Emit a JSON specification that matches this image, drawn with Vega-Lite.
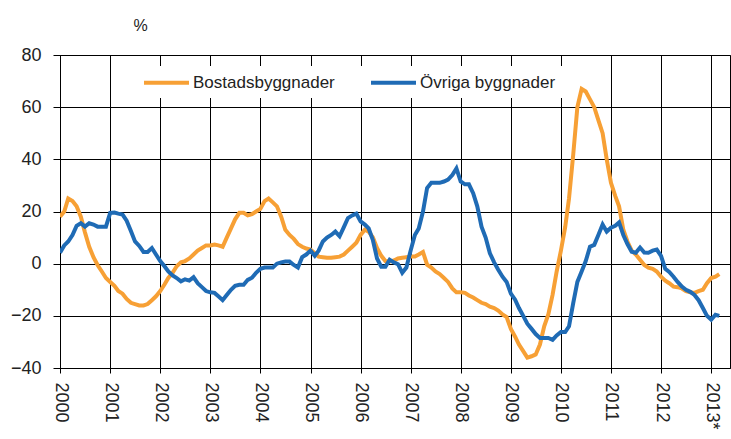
{
  "$schema": "https://vega.github.io/schema/vega-lite/v6.json",
  "width": 670,
  "height": 313,
  "autosize": {"type": "none"},
  "padding": {"left": 60, "top": 55, "right": 1, "bottom": 71},
  "background": "white",
  "config": {
    "font": "Liberation Sans",
    "view": {"stroke": "#000000", "strokeWidth": 1}
  },
  "data": {
    "values": [
      {"date":"2000-01-01","serie":"Bostadsbyggnader","value":18},{"date":"2000-02-01","serie":"Bostadsbyggnader","value":20},{"date":"2000-03-01","serie":"Bostadsbyggnader","value":25},{"date":"2000-04-01","serie":"Bostadsbyggnader","value":24},{"date":"2000-05-01","serie":"Bostadsbyggnader","value":22},{"date":"2000-06-01","serie":"Bostadsbyggnader","value":18},{"date":"2000-07-01","serie":"Bostadsbyggnader","value":12},{"date":"2000-08-01","serie":"Bostadsbyggnader","value":6.5},{"date":"2000-09-01","serie":"Bostadsbyggnader","value":2.5},{"date":"2000-10-01","serie":"Bostadsbyggnader","value":-0.5},{"date":"2000-11-01","serie":"Bostadsbyggnader","value":-3},{"date":"2000-12-01","serie":"Bostadsbyggnader","value":-5.5},
      {"date":"2001-01-01","serie":"Bostadsbyggnader","value":-7},{"date":"2001-02-01","serie":"Bostadsbyggnader","value":-8.5},{"date":"2001-03-01","serie":"Bostadsbyggnader","value":-10.5},{"date":"2001-04-01","serie":"Bostadsbyggnader","value":-11.5},{"date":"2001-05-01","serie":"Bostadsbyggnader","value":-13.5},{"date":"2001-06-01","serie":"Bostadsbyggnader","value":-15},{"date":"2001-07-01","serie":"Bostadsbyggnader","value":-15.5},{"date":"2001-08-01","serie":"Bostadsbyggnader","value":-16},{"date":"2001-09-01","serie":"Bostadsbyggnader","value":-16},{"date":"2001-10-01","serie":"Bostadsbyggnader","value":-15.5},{"date":"2001-11-01","serie":"Bostadsbyggnader","value":-14},{"date":"2001-12-01","serie":"Bostadsbyggnader","value":-12.5},
      {"date":"2002-01-01","serie":"Bostadsbyggnader","value":-10.5},{"date":"2002-02-01","serie":"Bostadsbyggnader","value":-8},{"date":"2002-03-01","serie":"Bostadsbyggnader","value":-5.5},{"date":"2002-04-01","serie":"Bostadsbyggnader","value":-3.5},{"date":"2002-05-01","serie":"Bostadsbyggnader","value":-1},{"date":"2002-06-01","serie":"Bostadsbyggnader","value":0.5},{"date":"2002-07-01","serie":"Bostadsbyggnader","value":1},{"date":"2002-08-01","serie":"Bostadsbyggnader","value":2},{"date":"2002-09-01","serie":"Bostadsbyggnader","value":3.5},{"date":"2002-10-01","serie":"Bostadsbyggnader","value":5},{"date":"2002-11-01","serie":"Bostadsbyggnader","value":6},{"date":"2002-12-01","serie":"Bostadsbyggnader","value":7},
      {"date":"2003-01-01","serie":"Bostadsbyggnader","value":7},{"date":"2003-02-01","serie":"Bostadsbyggnader","value":7.3},{"date":"2003-03-01","serie":"Bostadsbyggnader","value":7},{"date":"2003-04-01","serie":"Bostadsbyggnader","value":6.5},{"date":"2003-05-01","serie":"Bostadsbyggnader","value":10},{"date":"2003-06-01","serie":"Bostadsbyggnader","value":13.5},{"date":"2003-07-01","serie":"Bostadsbyggnader","value":17},{"date":"2003-08-01","serie":"Bostadsbyggnader","value":19.5},{"date":"2003-09-01","serie":"Bostadsbyggnader","value":19.5},{"date":"2003-10-01","serie":"Bostadsbyggnader","value":18.5},{"date":"2003-11-01","serie":"Bostadsbyggnader","value":19},{"date":"2003-12-01","serie":"Bostadsbyggnader","value":20},
      {"date":"2004-01-01","serie":"Bostadsbyggnader","value":21},{"date":"2004-02-01","serie":"Bostadsbyggnader","value":24},{"date":"2004-03-01","serie":"Bostadsbyggnader","value":25},{"date":"2004-04-01","serie":"Bostadsbyggnader","value":23.5},{"date":"2004-05-01","serie":"Bostadsbyggnader","value":22},{"date":"2004-06-01","serie":"Bostadsbyggnader","value":18},{"date":"2004-07-01","serie":"Bostadsbyggnader","value":13},{"date":"2004-08-01","serie":"Bostadsbyggnader","value":11},{"date":"2004-09-01","serie":"Bostadsbyggnader","value":9.5},{"date":"2004-10-01","serie":"Bostadsbyggnader","value":7.5},{"date":"2004-11-01","serie":"Bostadsbyggnader","value":6.5},{"date":"2004-12-01","serie":"Bostadsbyggnader","value":5.8},
      {"date":"2005-01-01","serie":"Bostadsbyggnader","value":5.4},{"date":"2005-02-01","serie":"Bostadsbyggnader","value":4},{"date":"2005-03-01","serie":"Bostadsbyggnader","value":2.7},{"date":"2005-04-01","serie":"Bostadsbyggnader","value":2.5},{"date":"2005-05-01","serie":"Bostadsbyggnader","value":2.3},{"date":"2005-06-01","serie":"Bostadsbyggnader","value":2.3},{"date":"2005-07-01","serie":"Bostadsbyggnader","value":2.5},{"date":"2005-08-01","serie":"Bostadsbyggnader","value":2.7},{"date":"2005-09-01","serie":"Bostadsbyggnader","value":3.5},{"date":"2005-10-01","serie":"Bostadsbyggnader","value":5},{"date":"2005-11-01","serie":"Bostadsbyggnader","value":6.5},{"date":"2005-12-01","serie":"Bostadsbyggnader","value":8},
      {"date":"2006-01-01","serie":"Bostadsbyggnader","value":11},{"date":"2006-02-01","serie":"Bostadsbyggnader","value":13},{"date":"2006-03-01","serie":"Bostadsbyggnader","value":12.3},{"date":"2006-04-01","serie":"Bostadsbyggnader","value":10},{"date":"2006-05-01","serie":"Bostadsbyggnader","value":6},{"date":"2006-06-01","serie":"Bostadsbyggnader","value":3},{"date":"2006-07-01","serie":"Bostadsbyggnader","value":1},{"date":"2006-08-01","serie":"Bostadsbyggnader","value":0.8},{"date":"2006-09-01","serie":"Bostadsbyggnader","value":1.2},{"date":"2006-10-01","serie":"Bostadsbyggnader","value":2},{"date":"2006-11-01","serie":"Bostadsbyggnader","value":2.3},{"date":"2006-12-01","serie":"Bostadsbyggnader","value":2.5},
      {"date":"2007-01-01","serie":"Bostadsbyggnader","value":2.7},{"date":"2007-02-01","serie":"Bostadsbyggnader","value":2.7},{"date":"2007-03-01","serie":"Bostadsbyggnader","value":3.5},{"date":"2007-04-01","serie":"Bostadsbyggnader","value":4.5},{"date":"2007-05-01","serie":"Bostadsbyggnader","value":-0.4},{"date":"2007-06-01","serie":"Bostadsbyggnader","value":-1.5},{"date":"2007-07-01","serie":"Bostadsbyggnader","value":-3},{"date":"2007-08-01","serie":"Bostadsbyggnader","value":-4},{"date":"2007-09-01","serie":"Bostadsbyggnader","value":-5.5},{"date":"2007-10-01","serie":"Bostadsbyggnader","value":-7},{"date":"2007-11-01","serie":"Bostadsbyggnader","value":-9.5},{"date":"2007-12-01","serie":"Bostadsbyggnader","value":-11},
      {"date":"2008-01-01","serie":"Bostadsbyggnader","value":-11},{"date":"2008-02-01","serie":"Bostadsbyggnader","value":-11.2},{"date":"2008-03-01","serie":"Bostadsbyggnader","value":-12.2},{"date":"2008-04-01","serie":"Bostadsbyggnader","value":-13},{"date":"2008-05-01","serie":"Bostadsbyggnader","value":-14},{"date":"2008-06-01","serie":"Bostadsbyggnader","value":-15},{"date":"2008-07-01","serie":"Bostadsbyggnader","value":-15.5},{"date":"2008-08-01","serie":"Bostadsbyggnader","value":-16.5},{"date":"2008-09-01","serie":"Bostadsbyggnader","value":-17},{"date":"2008-10-01","serie":"Bostadsbyggnader","value":-18},{"date":"2008-11-01","serie":"Bostadsbyggnader","value":-19.5},{"date":"2008-12-01","serie":"Bostadsbyggnader","value":-20.5},
      {"date":"2009-01-01","serie":"Bostadsbyggnader","value":-25},{"date":"2009-02-01","serie":"Bostadsbyggnader","value":-28},{"date":"2009-03-01","serie":"Bostadsbyggnader","value":-31},{"date":"2009-04-01","serie":"Bostadsbyggnader","value":-33.5},{"date":"2009-05-01","serie":"Bostadsbyggnader","value":-36},{"date":"2009-06-01","serie":"Bostadsbyggnader","value":-35.5},{"date":"2009-07-01","serie":"Bostadsbyggnader","value":-34.8},{"date":"2009-08-01","serie":"Bostadsbyggnader","value":-31},{"date":"2009-09-01","serie":"Bostadsbyggnader","value":-24},{"date":"2009-10-01","serie":"Bostadsbyggnader","value":-19.5},{"date":"2009-11-01","serie":"Bostadsbyggnader","value":-12},{"date":"2009-12-01","serie":"Bostadsbyggnader","value":-3},
      {"date":"2010-01-01","serie":"Bostadsbyggnader","value":5},{"date":"2010-02-01","serie":"Bostadsbyggnader","value":14},{"date":"2010-03-01","serie":"Bostadsbyggnader","value":25},{"date":"2010-04-01","serie":"Bostadsbyggnader","value":42},{"date":"2010-05-01","serie":"Bostadsbyggnader","value":60},{"date":"2010-06-01","serie":"Bostadsbyggnader","value":67},{"date":"2010-07-01","serie":"Bostadsbyggnader","value":66},{"date":"2010-08-01","serie":"Bostadsbyggnader","value":63},{"date":"2010-09-01","serie":"Bostadsbyggnader","value":60},{"date":"2010-10-01","serie":"Bostadsbyggnader","value":55},{"date":"2010-11-01","serie":"Bostadsbyggnader","value":50},{"date":"2010-12-01","serie":"Bostadsbyggnader","value":40},
      {"date":"2011-01-01","serie":"Bostadsbyggnader","value":31},{"date":"2011-02-01","serie":"Bostadsbyggnader","value":26},{"date":"2011-03-01","serie":"Bostadsbyggnader","value":22},{"date":"2011-04-01","serie":"Bostadsbyggnader","value":13},{"date":"2011-05-01","serie":"Bostadsbyggnader","value":8.5},{"date":"2011-06-01","serie":"Bostadsbyggnader","value":5},{"date":"2011-07-01","serie":"Bostadsbyggnader","value":3.5},{"date":"2011-08-01","serie":"Bostadsbyggnader","value":1.5},{"date":"2011-09-01","serie":"Bostadsbyggnader","value":-0.5},{"date":"2011-10-01","serie":"Bostadsbyggnader","value":-1.5},{"date":"2011-11-01","serie":"Bostadsbyggnader","value":-2},{"date":"2011-12-01","serie":"Bostadsbyggnader","value":-3},
      {"date":"2012-01-01","serie":"Bostadsbyggnader","value":-5},{"date":"2012-02-01","serie":"Bostadsbyggnader","value":-6.5},{"date":"2012-03-01","serie":"Bostadsbyggnader","value":-7.5},{"date":"2012-04-01","serie":"Bostadsbyggnader","value":-8.8},{"date":"2012-05-01","serie":"Bostadsbyggnader","value":-9},{"date":"2012-06-01","serie":"Bostadsbyggnader","value":-9.5},{"date":"2012-07-01","serie":"Bostadsbyggnader","value":-10.5},{"date":"2012-08-01","serie":"Bostadsbyggnader","value":-11},{"date":"2012-09-01","serie":"Bostadsbyggnader","value":-11.2},{"date":"2012-10-01","serie":"Bostadsbyggnader","value":-10.5},{"date":"2012-11-01","serie":"Bostadsbyggnader","value":-10},{"date":"2012-12-01","serie":"Bostadsbyggnader","value":-7.5},
      {"date":"2013-01-01","serie":"Bostadsbyggnader","value":-5.5},{"date":"2013-02-01","serie":"Bostadsbyggnader","value":-5},{"date":"2013-03-01","serie":"Bostadsbyggnader","value":-4},
      {"date":"2000-01-01","serie":"Övriga byggnader","value":4.2},{"date":"2000-02-01","serie":"Övriga byggnader","value":7},{"date":"2000-03-01","serie":"Övriga byggnader","value":8.5},{"date":"2000-04-01","serie":"Övriga byggnader","value":11},{"date":"2000-05-01","serie":"Övriga byggnader","value":14.5},{"date":"2000-06-01","serie":"Övriga byggnader","value":15.5},{"date":"2000-07-01","serie":"Övriga byggnader","value":14.2},{"date":"2000-08-01","serie":"Övriga byggnader","value":15.5},{"date":"2000-09-01","serie":"Övriga byggnader","value":15},{"date":"2000-10-01","serie":"Övriga byggnader","value":14.2},{"date":"2000-11-01","serie":"Övriga byggnader","value":14.2},{"date":"2000-12-01","serie":"Övriga byggnader","value":14.2},
      {"date":"2001-01-01","serie":"Övriga byggnader","value":19.5},{"date":"2001-02-01","serie":"Övriga byggnader","value":19.6},{"date":"2001-03-01","serie":"Övriga byggnader","value":19.2},{"date":"2001-04-01","serie":"Övriga byggnader","value":18.8},{"date":"2001-05-01","serie":"Övriga byggnader","value":16.5},{"date":"2001-06-01","serie":"Övriga byggnader","value":12.5},{"date":"2001-07-01","serie":"Övriga byggnader","value":8.5},{"date":"2001-08-01","serie":"Övriga byggnader","value":6.8},{"date":"2001-09-01","serie":"Övriga byggnader","value":4.5},{"date":"2001-10-01","serie":"Övriga byggnader","value":4.5},{"date":"2001-11-01","serie":"Övriga byggnader","value":6},{"date":"2001-12-01","serie":"Övriga byggnader","value":3.5},
      {"date":"2002-01-01","serie":"Övriga byggnader","value":1},{"date":"2002-02-01","serie":"Övriga byggnader","value":-1},{"date":"2002-03-01","serie":"Övriga byggnader","value":-3},{"date":"2002-04-01","serie":"Övriga byggnader","value":-4.5},{"date":"2002-05-01","serie":"Övriga byggnader","value":-5.5},{"date":"2002-06-01","serie":"Övriga byggnader","value":-6.8},{"date":"2002-07-01","serie":"Övriga byggnader","value":-6},{"date":"2002-08-01","serie":"Övriga byggnader","value":-6.5},{"date":"2002-09-01","serie":"Övriga byggnader","value":-5.2},{"date":"2002-10-01","serie":"Övriga byggnader","value":-7.5},{"date":"2002-11-01","serie":"Övriga byggnader","value":-9},{"date":"2002-12-01","serie":"Övriga byggnader","value":-10.5},
      {"date":"2003-01-01","serie":"Övriga byggnader","value":-11},{"date":"2003-02-01","serie":"Övriga byggnader","value":-11.2},{"date":"2003-03-01","serie":"Övriga byggnader","value":-12.5},{"date":"2003-04-01","serie":"Övriga byggnader","value":-14},{"date":"2003-05-01","serie":"Övriga byggnader","value":-12},{"date":"2003-06-01","serie":"Övriga byggnader","value":-10},{"date":"2003-07-01","serie":"Övriga byggnader","value":-8.5},{"date":"2003-08-01","serie":"Övriga byggnader","value":-8.1},{"date":"2003-09-01","serie":"Övriga byggnader","value":-8.1},{"date":"2003-10-01","serie":"Övriga byggnader","value":-6.2},{"date":"2003-11-01","serie":"Övriga byggnader","value":-5.4},{"date":"2003-12-01","serie":"Övriga byggnader","value":-3.5},
      {"date":"2004-01-01","serie":"Övriga byggnader","value":-2},{"date":"2004-02-01","serie":"Övriga byggnader","value":-1.5},{"date":"2004-03-01","serie":"Övriga byggnader","value":-1.5},{"date":"2004-04-01","serie":"Övriga byggnader","value":-1.5},{"date":"2004-05-01","serie":"Övriga byggnader","value":0},{"date":"2004-06-01","serie":"Övriga byggnader","value":0.5},{"date":"2004-07-01","serie":"Övriga byggnader","value":0.8},{"date":"2004-08-01","serie":"Övriga byggnader","value":0.8},{"date":"2004-09-01","serie":"Övriga byggnader","value":-0.5},{"date":"2004-10-01","serie":"Övriga byggnader","value":-1.5},{"date":"2004-11-01","serie":"Övriga byggnader","value":2.5},{"date":"2004-12-01","serie":"Övriga byggnader","value":3.5},
      {"date":"2005-01-01","serie":"Övriga byggnader","value":5},{"date":"2005-02-01","serie":"Övriga byggnader","value":3},{"date":"2005-03-01","serie":"Övriga byggnader","value":5},{"date":"2005-04-01","serie":"Övriga byggnader","value":8.5},{"date":"2005-05-01","serie":"Övriga byggnader","value":10},{"date":"2005-06-01","serie":"Övriga byggnader","value":11},{"date":"2005-07-01","serie":"Övriga byggnader","value":12.3},{"date":"2005-08-01","serie":"Övriga byggnader","value":10.5},{"date":"2005-09-01","serie":"Övriga byggnader","value":14},{"date":"2005-10-01","serie":"Övriga byggnader","value":17.5},{"date":"2005-11-01","serie":"Övriga byggnader","value":18.5},{"date":"2005-12-01","serie":"Övriga byggnader","value":19.2},
      {"date":"2006-01-01","serie":"Övriga byggnader","value":16.2},{"date":"2006-02-01","serie":"Övriga byggnader","value":15},{"date":"2006-03-01","serie":"Övriga byggnader","value":13.5},{"date":"2006-04-01","serie":"Övriga byggnader","value":9},{"date":"2006-05-01","serie":"Övriga byggnader","value":2},{"date":"2006-06-01","serie":"Övriga byggnader","value":-1.2},{"date":"2006-07-01","serie":"Övriga byggnader","value":-1.2},{"date":"2006-08-01","serie":"Övriga byggnader","value":1.5},{"date":"2006-09-01","serie":"Övriga byggnader","value":0.5},{"date":"2006-10-01","serie":"Övriga byggnader","value":-0.2},{"date":"2006-11-01","serie":"Övriga byggnader","value":-3.5},{"date":"2006-12-01","serie":"Övriga byggnader","value":-1.5},
      {"date":"2007-01-01","serie":"Övriga byggnader","value":5},{"date":"2007-02-01","serie":"Övriga byggnader","value":11},{"date":"2007-03-01","serie":"Övriga byggnader","value":13.5},{"date":"2007-04-01","serie":"Övriga byggnader","value":20},{"date":"2007-05-01","serie":"Övriga byggnader","value":29},{"date":"2007-06-01","serie":"Övriga byggnader","value":31},{"date":"2007-07-01","serie":"Övriga byggnader","value":31},{"date":"2007-08-01","serie":"Övriga byggnader","value":31},{"date":"2007-09-01","serie":"Övriga byggnader","value":31.5},{"date":"2007-10-01","serie":"Övriga byggnader","value":32.2},{"date":"2007-11-01","serie":"Övriga byggnader","value":34},{"date":"2007-12-01","serie":"Övriga byggnader","value":36.5},
      {"date":"2008-01-01","serie":"Övriga byggnader","value":31.5},{"date":"2008-02-01","serie":"Övriga byggnader","value":30.4},{"date":"2008-03-01","serie":"Övriga byggnader","value":30.4},{"date":"2008-04-01","serie":"Övriga byggnader","value":27},{"date":"2008-05-01","serie":"Övriga byggnader","value":22},{"date":"2008-06-01","serie":"Övriga byggnader","value":14.2},{"date":"2008-07-01","serie":"Övriga byggnader","value":10},{"date":"2008-08-01","serie":"Övriga byggnader","value":4},{"date":"2008-09-01","serie":"Övriga byggnader","value":0.5},{"date":"2008-10-01","serie":"Övriga byggnader","value":-2.3},{"date":"2008-11-01","serie":"Övriga byggnader","value":-5},{"date":"2008-12-01","serie":"Övriga byggnader","value":-7},
      {"date":"2009-01-01","serie":"Övriga byggnader","value":-11.5},{"date":"2009-02-01","serie":"Övriga byggnader","value":-13.8},{"date":"2009-03-01","serie":"Övriga byggnader","value":-17},{"date":"2009-04-01","serie":"Övriga byggnader","value":-20},{"date":"2009-05-01","serie":"Övriga byggnader","value":-23},{"date":"2009-06-01","serie":"Övriga byggnader","value":-25},{"date":"2009-07-01","serie":"Övriga byggnader","value":-27},{"date":"2009-08-01","serie":"Övriga byggnader","value":-28.5},{"date":"2009-09-01","serie":"Övriga byggnader","value":-28.5},{"date":"2009-10-01","serie":"Övriga byggnader","value":-28.5},{"date":"2009-11-01","serie":"Övriga byggnader","value":-29.2},{"date":"2009-12-01","serie":"Övriga byggnader","value":-27.5},
      {"date":"2010-01-01","serie":"Övriga byggnader","value":-26.2},{"date":"2010-02-01","serie":"Övriga byggnader","value":-26.2},{"date":"2010-03-01","serie":"Övriga byggnader","value":-24},{"date":"2010-04-01","serie":"Övriga byggnader","value":-15},{"date":"2010-05-01","serie":"Övriga byggnader","value":-7},{"date":"2010-06-01","serie":"Övriga byggnader","value":-3},{"date":"2010-07-01","serie":"Övriga byggnader","value":1},{"date":"2010-08-01","serie":"Övriga byggnader","value":6.5},{"date":"2010-09-01","serie":"Övriga byggnader","value":7.2},{"date":"2010-10-01","serie":"Övriga byggnader","value":11},{"date":"2010-11-01","serie":"Övriga byggnader","value":15},{"date":"2010-12-01","serie":"Övriga byggnader","value":12.3},
      {"date":"2011-01-01","serie":"Övriga byggnader","value":13.8},{"date":"2011-02-01","serie":"Övriga byggnader","value":14.5},{"date":"2011-03-01","serie":"Övriga byggnader","value":15.8},{"date":"2011-04-01","serie":"Övriga byggnader","value":11},{"date":"2011-05-01","serie":"Övriga byggnader","value":7.5},{"date":"2011-06-01","serie":"Övriga byggnader","value":4.6},{"date":"2011-07-01","serie":"Övriga byggnader","value":4.2},{"date":"2011-08-01","serie":"Övriga byggnader","value":6.2},{"date":"2011-09-01","serie":"Övriga byggnader","value":4.3},{"date":"2011-10-01","serie":"Övriga byggnader","value":4.2},{"date":"2011-11-01","serie":"Övriga byggnader","value":5},{"date":"2011-12-01","serie":"Övriga byggnader","value":5.4},
      {"date":"2012-01-01","serie":"Övriga byggnader","value":3},{"date":"2012-02-01","serie":"Övriga byggnader","value":-2},{"date":"2012-03-01","serie":"Övriga byggnader","value":-3.2},{"date":"2012-04-01","serie":"Övriga byggnader","value":-5},{"date":"2012-05-01","serie":"Övriga byggnader","value":-7},{"date":"2012-06-01","serie":"Övriga byggnader","value":-8.8},{"date":"2012-07-01","serie":"Övriga byggnader","value":-10},{"date":"2012-08-01","serie":"Övriga byggnader","value":-10.8},{"date":"2012-09-01","serie":"Övriga byggnader","value":-12},{"date":"2012-10-01","serie":"Övriga byggnader","value":-14},{"date":"2012-11-01","serie":"Övriga byggnader","value":-17},{"date":"2012-12-01","serie":"Övriga byggnader","value":-20},
      {"date":"2013-01-01","serie":"Övriga byggnader","value":-21.5},{"date":"2013-02-01","serie":"Övriga byggnader","value":-19.6},{"date":"2013-03-01","serie":"Övriga byggnader","value":-20}
    ]
  },
  "mark": {"type": "line", "strokeWidth": 4, "clip": true},
  "encoding": {
    "x": {
      "field": "date",
      "type": "temporal",
      "scale": {"type": "utc", "domain": [{"year": 2000, "month": 1, "date": 1, "utc": true}, {"year": 2013, "month": 5, "date": 18, "utc": true}]},
      "axis": {
        "title": null,
        "values": [
          {"year": 2000, "month": 1, "date": 1, "utc": true},{"year": 2001, "month": 1, "date": 1, "utc": true},{"year": 2002, "month": 1, "date": 1, "utc": true},{"year": 2003, "month": 1, "date": 1, "utc": true},{"year": 2004, "month": 1, "date": 1, "utc": true},{"year": 2005, "month": 1, "date": 1, "utc": true},{"year": 2006, "month": 1, "date": 1, "utc": true},{"year": 2007, "month": 1, "date": 1, "utc": true},{"year": 2008, "month": 1, "date": 1, "utc": true},{"year": 2009, "month": 1, "date": 1, "utc": true},{"year": 2010, "month": 1, "date": 1, "utc": true},{"year": 2011, "month": 1, "date": 1, "utc": true},{"year": 2012, "month": 1, "date": 1, "utc": true},{"year": 2013, "month": 1, "date": 1, "utc": true}
        ],
        "labelExpr": "utcFormat(datum.value, '%Y') == '2013' ? '2013*' : utcFormat(datum.value, '%Y')",
        "labelAngle": 90,
        "labelAlign": "left",
        "labelBaseline": "middle",
        "labelFontSize": 18,
        "labelColor": "#222222",
        "labelPadding": 9,
        "labelOverlap": false,
        "labelFlush": false,
        "tickSize": 5,
        "tickColor": "#000000",
        "domainColor": "#000000",
        "grid": true,
        "gridColor": "#000000",
        "gridOpacity": 1,
        "gridWidth": 1
      }
    },
    "y": {
      "field": "value",
      "type": "quantitative",
      "scale": {"domain": [-40, 80], "nice": false, "zero": false},
      "axis": {
        "title": "%",
        "titleAngle": 0,
        "titleX": 80,
        "titleY": -30,
        "titleAlign": "center",
        "titleBaseline": "middle",
        "titleFontSize": 16,
        "titleFontWeight": "normal",
        "titleColor": "#222222",
        "values": [-40, -20, 0, 20, 40, 60, 80],
        "labelFontSize": 18,
        "labelColor": "#222222",
        "labelPadding": 12,
        "tickSize": 7,
        "tickColor": "#000000",
        "domainColor": "#000000",
        "grid": true,
        "gridColor": "#000000",
        "gridOpacity": 1,
        "gridWidth": 1
      }
    },
    "color": {
      "field": "serie",
      "type": "nominal",
      "scale": {"domain": ["Bostadsbyggnader", "Övriga byggnader"], "range": ["#F7A035", "#1F6BB5"]},
      "legend": {
        "title": null,
        "orient": "none",
        "direction": "horizontal",
        "legendX": 75,
        "legendY": 11,
        "fillColor": "#ffffff",
        "padding": 7,
        "symbolType": "M-1,0H5",
        "symbolSize": 225,
        "symbolStrokeWidth": 4,
        "labelFontSize": 17,
        "labelColor": "#222222",
        "labelOffset": 32,
        "columnPadding": 28,
        "labelLimit": 300
      }
    }
  }
}
